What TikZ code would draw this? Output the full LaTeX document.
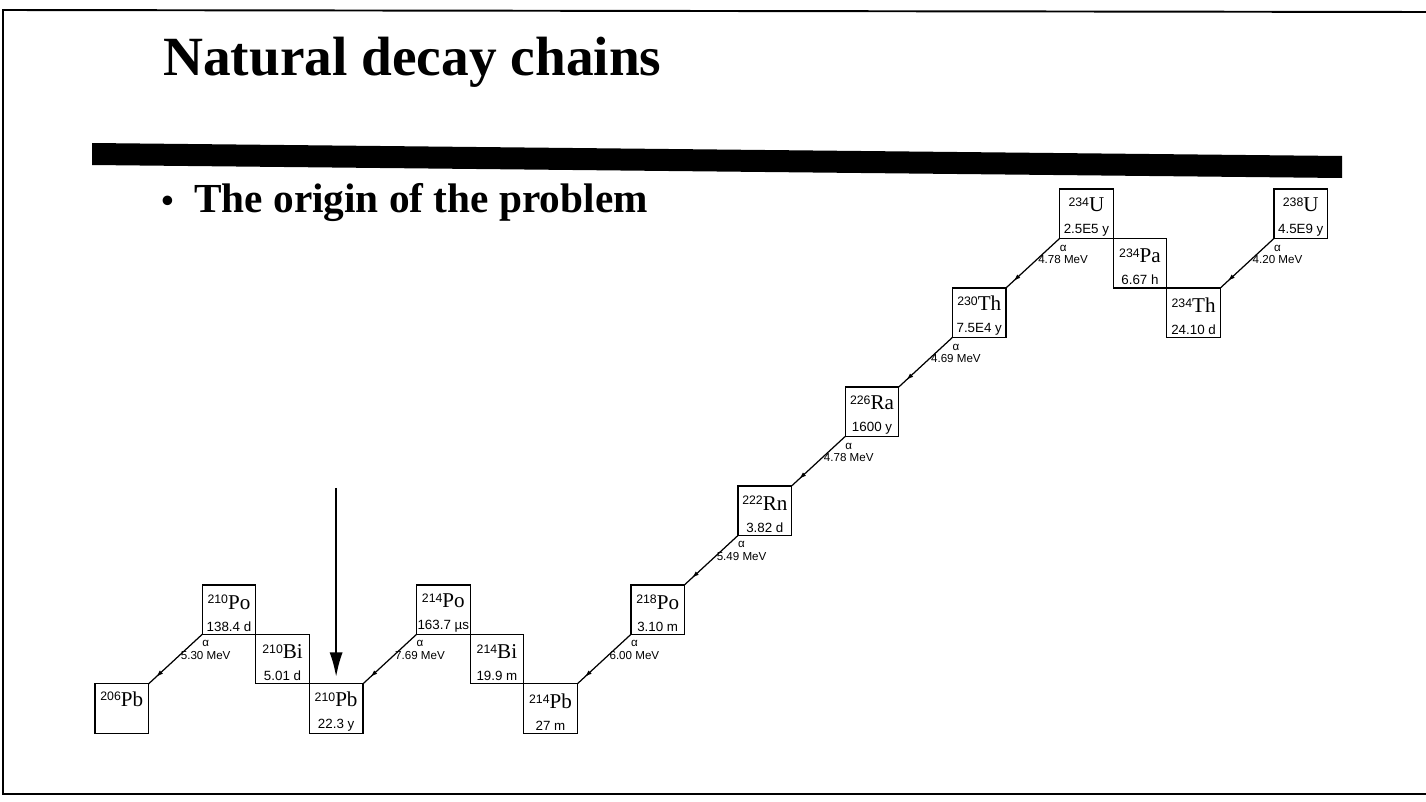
\documentclass[tikz,border=0pt]{standalone}
\usepackage{fontspec}
\setmainfont{Liberation Serif}
\setsansfont{Liberation Sans}
\usepackage{tikz}
\usetikzlibrary{arrows.meta,positioning,decorations.markings}

\newcommand{\nuc}[2]{\rule{0pt}{12pt}{\sffamily\fontsize{7}{7}\selectfont\raisebox{3pt}{#1}}#2}
\newcommand{\halflife}[1]{{\sffamily\fontsize{7.6}{8}\selectfont #1}}

\tikzset{
  nuclide/.style={draw, line width=0.7pt, minimum width=1.072cm, minimum height=0.99cm,
    inner sep=0pt, outer sep=0pt, align=center, font=\fontsize{12}{12.4}\selectfont},
  alphadecay/.style={line width=0.7pt,
    decoration={markings, mark=at position 0.86 with {\arrow{Latex[length=4pt,width=2.6pt]}}},
    postaction={decorate}},
  energy/.style={anchor=north, inner sep=0pt, align=center,
    font=\sffamily\fontsize{6.6}{7}\selectfont, xshift=0.07cm, yshift=-0.12cm}
}

\begin{document}
\begin{tikzpicture}[x=0.02cm, y=-0.02cm]
  \useasboundingbox (0,0) rectangle (1426,801);
  \draw[line width=1.1pt] (1426,12) -- (3,10) -- (3,794) -- (1426,794);
  \fill (92,143) -- (1342,156) -- (1342,178) -- (92,165) -- cycle;

  \node[anchor=base west, inner sep=0pt, font=\bfseries\fontsize{31.5}{36}\selectfont] (title) at (163,75) {Natural decay chains};
  \node[anchor=base west, inner sep=0pt, font=\bfseries\fontsize{23.5}{28}\selectfont] (point) at (161,212) {{\fontsize{20}{20}\selectfont\textbullet}\hspace{0.5em}The origin of the problem};

  \begin{scope}[xshift=1.9cm, yshift=-3.78cm, x=1.072cm, y=-0.99cm]
    \node[nuclide] (U238) at (22.5,0.5) {\nuc{238}{U}\\\halflife{4.5E9 y}};
    \node[nuclide] (Th234) at (20.5,2.5) {\nuc{234}{Th}\\\halflife{24.10 d}};
    \node[nuclide] (Pa234) at (19.5,1.5) {\nuc{234}{Pa}\\\halflife{6.67 h}};
    \node[nuclide] (U234) at (18.5,0.5) {\nuc{234}{U}\\\halflife{2.5E5 y}};
    \node[nuclide] (Th230) at (16.5,2.5) {\nuc{230}{Th}\\\halflife{7.5E4 y}};
    \node[nuclide] (Ra226) at (14.5,4.5) {\nuc{226}{Ra}\\\halflife{1600 y}};
    \node[nuclide] (Rn222) at (12.5,6.5) {\nuc{222}{Rn}\\\halflife{3.82 d}};
    \node[nuclide] (Po218) at (10.5,8.5) {\nuc{218}{Po}\\\halflife{3.10 m}};
    \node[nuclide] (Pb214) at (8.5,10.5) {\nuc{214}{Pb}\\\halflife{27 m}};
    \node[nuclide] (Bi214) at (7.5,9.5) {\nuc{214}{Bi}\\\halflife{19.9 m}};
    \node[nuclide] (Po214) at (6.5,8.5) {\nuc{214}{Po}\\\halflife{163.7 µs}};
    \node[nuclide] (Pb210) at (4.5,10.5) {\nuc{210}{Pb}\\\halflife{22.3 y}};
    \node[nuclide] (Bi210) at (3.5,9.5) {\nuc{210}{Bi}\\\halflife{5.01 d}};
    \node[nuclide] (Po210) at (2.5,8.5) {\nuc{210}{Po}\\\halflife{138.4 d}};
    \node[nuclide] (Pb206) at (0.5,10.5) {\nuc{206}{Pb}\\\halflife{\strut}};
  \end{scope}

  \draw[alphadecay] (U238.south west) -- (Th234.north east);
  \draw[alphadecay] (U234.south west) -- (Th230.north east);
  \draw[alphadecay] (Th230.south west) -- (Ra226.north east);
  \draw[alphadecay] (Ra226.south west) -- (Rn222.north east);
  \draw[alphadecay] (Rn222.south west) -- (Po218.north east);
  \draw[alphadecay] (Po218.south west) -- (Pb214.north east);
  \draw[alphadecay] (Po214.south west) -- (Pb210.north east);
  \draw[alphadecay] (Po210.south west) -- (Pb206.north east);

  \node[energy] (eU238) at (U238.south west) {α\\4.20 MeV};
  \node[energy] (eU234) at (U234.south west) {α\\4.78 MeV};
  \node[energy] (eTh230) at (Th230.south west) {α\\4.69 MeV};
  \node[energy] (eRa226) at (Ra226.south west) {α\\4.78 MeV};
  \node[energy] (eRn222) at (Rn222.south west) {α\\5.49 MeV};
  \node[energy] (ePo218) at (Po218.south west) {α\\6.00 MeV};
  \node[energy] (ePo214) at (Po214.south west) {α\\7.69 MeV};
  \node[energy] (ePo210) at (Po210.south west) {α\\5.30 MeV};

  \coordinate[above=3.92cm of Pb210.north] (pointer);
  \draw[line width=1.1pt, -{Latex[length=14pt,width=7.5pt]}, shorten >=0.14cm] (pointer) -- (Pb210.north);
\end{tikzpicture}
\end{document}
